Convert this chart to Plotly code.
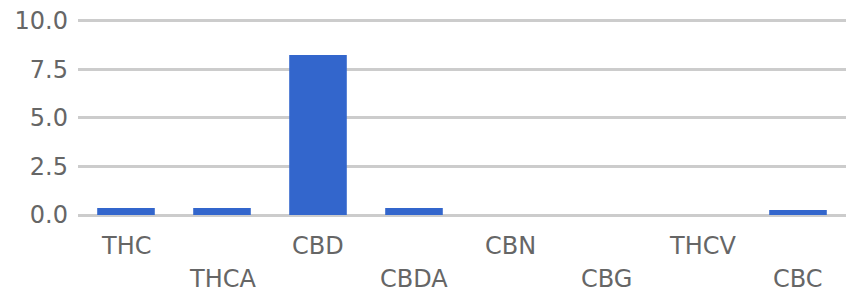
import plotly.graph_objects as go

categories = ["THC", "THCA", "CBD", "CBDA", "CBN", "CBG", "THCV", "CBC"]
values = [0.36, 0.36, 8.24, 0.36, 0.0, 0.0, 0.0, 0.26]
y_ticks = [0, 2.5, 5, 7.5, 10]
y_tick_labels = ["0.0", "2.5", "5.0", "7.5", "10.0"]

FONT = "DejaVu Sans"
TEXT = "#666666"
SIZE = 24

fig = go.Figure(
    go.Bar(x=categories, y=values, marker=dict(color="#3366CC", line=dict(width=0)), width=0.6)
)

annotations = []
for i, c in enumerate(categories):
    annotations.append(dict(
        x=c, y=0, xref="x", yref="y", text=c, showarrow=False,
        yanchor="middle", xanchor="center",
        yshift=-31 if i % 2 == 0 else -64,
        font=dict(family=FONT, size=SIZE, color=TEXT),
    ))

fig.update_layout(
    width=853, height=293,
    margin=dict(l=78, r=7, t=15, b=76),
    paper_bgcolor="white", plot_bgcolor="white",
    showlegend=False,
    annotations=annotations,
    xaxis=dict(showticklabels=False, showgrid=False, zeroline=False, showline=False,
               ticks="", range=[-0.5, 7.5]),
    yaxis=dict(range=[-0.1, 10.2], tickvals=y_ticks, ticktext=y_tick_labels,
               showgrid=True, gridcolor="#cccccc", gridwidth=2.5,
               zeroline=False, showline=False, ticks="", ticklabelstandoff=9,
               tickfont=dict(family=FONT, size=SIZE, color=TEXT)),
)

fig.write_html("out.html", config={"displayModeBar": False},
               post_script="document.body.style.margin='0';")
